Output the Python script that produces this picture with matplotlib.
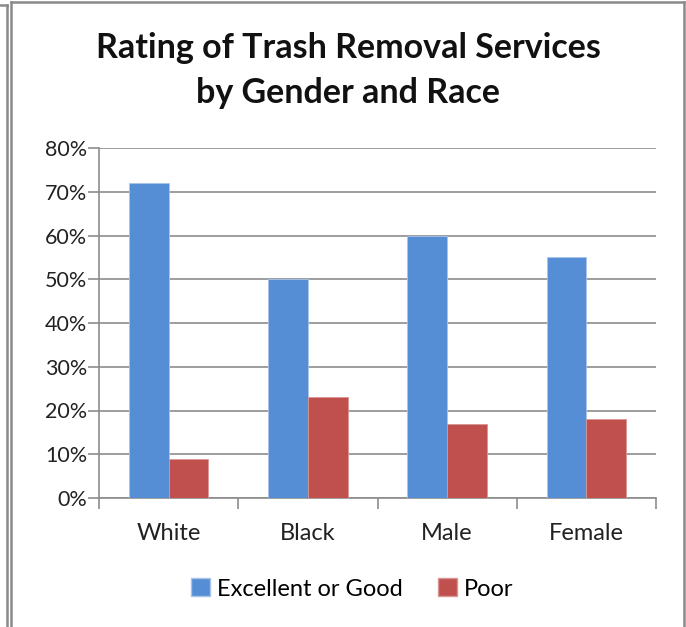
import matplotlib.pyplot as plt
import numpy as np
from matplotlib.lines import Line2D
from matplotlib.patches import Patch

categories = ["White", "Black", "Male", "Female"]
excellent_good = [72, 50, 60, 55]
poor = [9, 23, 17, 18]
series_names = ["Excellent or Good", "Poor"]
y_ticks = [0, 10, 20, 30, 40, 50, 60, 70, 80]

blue = "#558ED5"
red = "#C0504D"
grid_col = "#8C8C8C"

plt.rcParams["font.family"] = ["Lato", "DejaVu Sans"]

W, H = 686, 627
fig = plt.figure(figsize=(W / 100, H / 100), dpi=100)
ax = fig.add_axes([99 / W, 1 - 498 / H, (656 - 99) / W, (498 - 148) / H])

x = np.arange(len(categories))
bw = 0.285
ax.bar(x - bw / 2, excellent_good, bw, color=blue, edgecolor="#A9C4EB", linewidth=0.6, zorder=3)
ax.bar(x + bw / 2, poor, bw, color=red, edgecolor="#D99694", linewidth=0.6, zorder=3)

ax.set_xlim(-0.5, len(categories) - 0.5)
ax.set_ylim(0, 80)
ax.set_yticks(y_ticks)
ax.set_yticklabels([f"{v}%" for v in y_ticks], fontsize=15.5, color="#222222")
ax.yaxis.grid(True, color=grid_col, linewidth=1.2, zorder=0)
ax.set_axisbelow(True)

ax.set_xticks(x)
ax.set_xticklabels(categories, fontsize=17, color="#222222")
ax.tick_params(axis="x", length=0, pad=18)
ax.set_xticks(np.arange(-0.5, len(categories)), minor=True)
ax.tick_params(axis="x", which="minor", length=8, color=grid_col, width=1.2)
ax.tick_params(axis="y", length=8, color=grid_col, width=1.2, pad=0.5)

for s in ["top", "right"]:
    ax.spines[s].set_visible(False)
for s in ["left", "bottom"]:
    ax.spines[s].set_color(grid_col)
    ax.spines[s].set_linewidth(1.2)

fig.text(348 / W, 1 - 48 / H, "Rating of Trash Removal Services", ha="center", va="center",
         fontsize=24.5, fontweight="bold", color="#111111")
fig.text(348 / W, 1 - 93 / H, "by Gender and Race", ha="center", va="center",
         fontsize=24.5, fontweight="bold", color="#111111")

handles = [Patch(facecolor=blue, edgecolor="#A9C4EB"), Patch(facecolor=red, edgecolor="#D99694")]
fig.legend(handles, series_names, loc="center", bbox_to_anchor=(352 / W, 1 - 589 / H),
           ncol=2, frameon=False, fontsize=17, handlelength=0.8, handleheight=0.8,
           handletextpad=0.3, columnspacing=1.5)

# frame lines around the chart
border = "#8A8A8A"
fig.add_artist(Line2D([7 / W, 7 / W], [0, 1 - 5 / H], color=border, linewidth=1.8))
fig.add_artist(Line2D([0, 7 / W], [1 - 5 / H, 1 - 5 / H], color=border, linewidth=1.8))
fig.add_artist(Line2D([11 / W, 11 / W], [0, 1 - 2 / H], color=border, linewidth=1.8))
fig.add_artist(Line2D([11 / W, 684 / W], [1 - 2 / H, 1 - 2 / H], color=border, linewidth=1.8))
fig.add_artist(Line2D([684 / W, 684 / W], [0, 1 - 2 / H], color=border, linewidth=1.8))

fig.savefig("out.png", dpi=100)
